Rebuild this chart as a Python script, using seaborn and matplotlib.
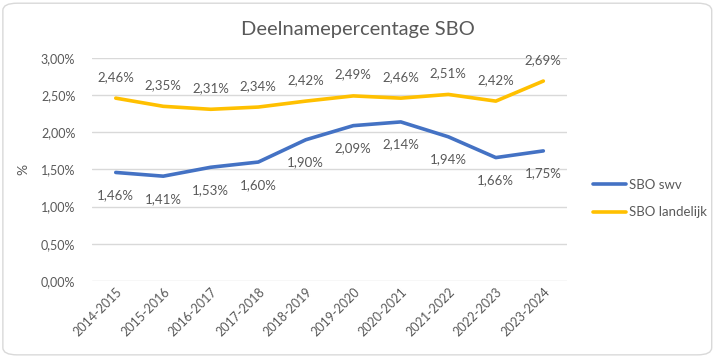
import matplotlib
matplotlib.use("Agg")
import matplotlib.pyplot as plt
import seaborn as sns
import pandas as pd
from matplotlib.patches import FancyBboxPatch
from matplotlib.ticker import FuncFormatter

years = ["2014-2015", "2015-2016", "2016-2017", "2017-2018", "2018-2019",
         "2019-2020", "2020-2021", "2021-2022", "2022-2023", "2023-2024"]
sbo_swv = [1.46, 1.41, 1.53, 1.60, 1.90, 2.09, 2.14, 1.94, 1.66, 1.75]
sbo_landelijk = [2.46, 2.35, 2.31, 2.34, 2.42, 2.49, 2.46, 2.51, 2.42, 2.69]
series_names = ["SBO swv", "SBO landelijk"]
colors = ["#4472C4", "#FFC000"]

df = pd.DataFrame({
    "jaar": years * 2,
    "waarde": sbo_swv + sbo_landelijk,
    "reeks": [series_names[0]] * len(years) + [series_names[1]] * len(years),
})

sns.set_style("white")
plt.rcParams["font.family"] = ["Lato", "DejaVu Sans"]
grey = "#595959"

fig = plt.figure(figsize=(7.16, 3.57), dpi=100)
ax = fig.add_axes([0.1285, 0.213, 0.6635, 0.6245])

sns.lineplot(data=df, x="jaar", y="waarde", hue="reeks", palette=colors,
             linewidth=2.6, sort=False, ax=ax)

# data labels
x_idx = range(len(years))
for i, v in zip(x_idx, sbo_swv):
    ax.annotate(f"{v:.2f}%".replace(".", ","), (i, v), xytext=(0, -12),
                textcoords="offset points", ha="center", va="top",
                fontsize=9.5, color=grey)
for i, v in zip(x_idx, sbo_landelijk):
    ax.annotate(f"{v:.2f}%".replace(".", ","), (i, v), xytext=(0, 11),
                textcoords="offset points", ha="center", va="bottom",
                fontsize=9.5, color=grey)

ax.set_ylim(0, 3.0)
ax.set_yticks([0, 0.5, 1.0, 1.5, 2.0, 2.5, 3.0])
ax.yaxis.set_major_formatter(FuncFormatter(lambda y, _: f"{y:.2f}%".replace(".", ",")))
ax.set_xlim(-0.5, len(years) - 0.5)
ax.grid(axis="y", color="#D9D9D9", linewidth=1)
for s in ax.spines.values():
    s.set_visible(False)
ax.tick_params(axis="both", length=0, colors=grey, labelsize=9)
ax.tick_params(axis="y", pad=12)
plt.setp(ax.get_xticklabels(), rotation=45, ha="right", rotation_mode="anchor")
ax.set_xlabel("")
ax.set_ylabel("%", color=grey, fontsize=10, labelpad=8)

fig.text(0.5, 0.916, "Deelnamepercentage SBO", color=grey, fontsize=14.5,
         ha="center", va="center")

leg = ax.legend(loc="center left", bbox_to_anchor=(1.03, 0.37), frameon=False,
                fontsize=9.5, handlelength=2.5, handletextpad=0.2, labelspacing=1.2)
for t in leg.get_texts():
    t.set_color(grey)

border = FancyBboxPatch((0.004, 0.006), 0.99, 0.985, boxstyle="round,pad=0,rounding_size=0.02",
                        transform=fig.transFigure, fill=False, edgecolor="#D9D9D9", linewidth=1)
fig.patches.append(border)

fig.savefig("out.png", dpi=100)
